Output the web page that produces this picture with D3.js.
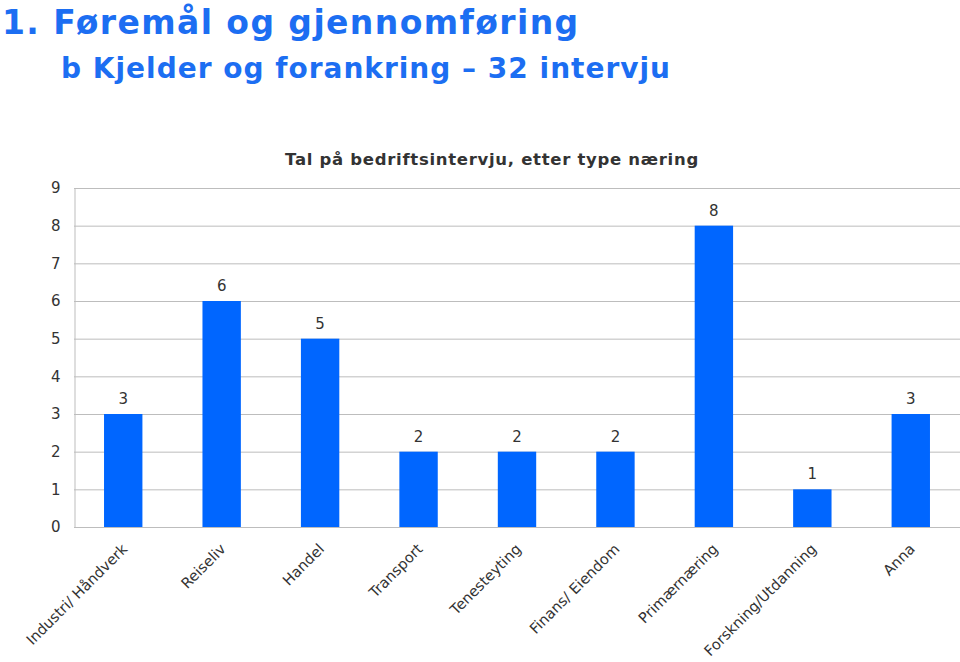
<!DOCTYPE html>
<html>
<head>
<meta charset="utf-8">
<script src="https://cdn.jsdelivr.net/npm/d3@7"></script>
<style>
  html, body { margin: 0; padding: 0; background: #fff; }
  svg { display: block; }
</style>
</head>
<body>
<svg id="chart" width="960" height="662"></svg>
<script>
const categories = ["Industri/ Håndverk", "Reiseliv", "Handel", "Transport", "Tenesteyting",
                    "Finans/ Eiendom", "Primærnæring", "Forskning/Utdanning", "Anna"];
const values = [3, 6, 5, 2, 2, 2, 8, 1, 3];
const yTicks = [0, 1, 2, 3, 4, 5, 6, 7, 8, 9];
const pageTitle = "1. Føremål og gjennomføring";
const pageSubtitle = "b Kjelder og forankring – 32 intervju";
const chartTitle = "Tal på bedriftsintervju, etter type næring";

(function () {
const svg = d3.select("#chart");
const font = "'DejaVu Sans', Verdana, sans-serif";
const pL = 74, pR = 960, pT = 188, pB = 527;

// Page titles
svg.append("text").attr("x", 2).attr("y", 34)
  .attr("font-family", font).attr("font-weight", "bold").attr("font-size", 33)
  .attr("letter-spacing", 1.4)
  .attr("fill", "#1c6ef2").text(pageTitle);
svg.append("text").attr("x", 61).attr("y", 78)
  .attr("font-family", font).attr("font-weight", "bold").attr("font-size", 28)
  .attr("letter-spacing", 1)
  .attr("fill", "#1c6ef2").text(pageSubtitle);

// Chart title
svg.append("text").attr("x", 492).attr("y", 165).attr("text-anchor", "middle")
  .attr("font-family", font).attr("font-weight", "bold").attr("font-size", 16.5)
  .attr("letter-spacing", 0.7)
  .attr("fill", "#333").text(chartTitle);

const x = d3.scaleBand().domain(categories).range([pL, pR])
  .paddingInner(0.61).paddingOuter(0.305);
const y = d3.scaleLinear().domain([0, 9]).range([pB, pT]);

// Gridlines
svg.append("g").selectAll("line").data(yTicks).join("line")
  .attr("x1", pL).attr("x2", pR)
  .attr("y1", d => y(d) + 0.5).attr("y2", d => y(d) + 0.5)
  .attr("stroke", "#bdbdbd").attr("stroke-width", 1);

// Y axis
const yAxis = svg.append("g").attr("transform", `translate(${pL + 0.5},0)`)
  .call(d3.axisLeft(y).tickValues(yTicks).tickSize(0).tickPadding(14).tickFormat(d3.format("d")));
yAxis.select(".domain").attr("stroke", "#bdbdbd");
yAxis.selectAll("text").attr("font-family", font).attr("font-size", 15).attr("fill", "#333");

// Bars
svg.append("g").selectAll("rect").data(values).join("rect")
  .attr("x", (d, i) => x(categories[i]))
  .attr("width", x.bandwidth())
  .attr("y", d => y(d))
  .attr("height", d => y(0) - y(d))
  .attr("fill", "#0066ff");

// Value labels
svg.append("g").selectAll("text").data(values).join("text")
  .attr("x", (d, i) => x(categories[i]) + x.bandwidth() / 2)
  .attr("y", d => y(d) - 10)
  .attr("text-anchor", "middle")
  .attr("font-family", font).attr("font-size", 15).attr("fill", "#333")
  .text(d => d);

// X labels
svg.append("g").selectAll("text").data(categories).join("text")
  .attr("transform", d => `translate(${x(d) + x.bandwidth() / 2 + 5},550) rotate(-45)`)
  .attr("text-anchor", "end")
  .attr("font-family", font).attr("font-size", 14.6).attr("fill", "#333")
  .text(d => d);
})();
</script>
</body>
</html>
